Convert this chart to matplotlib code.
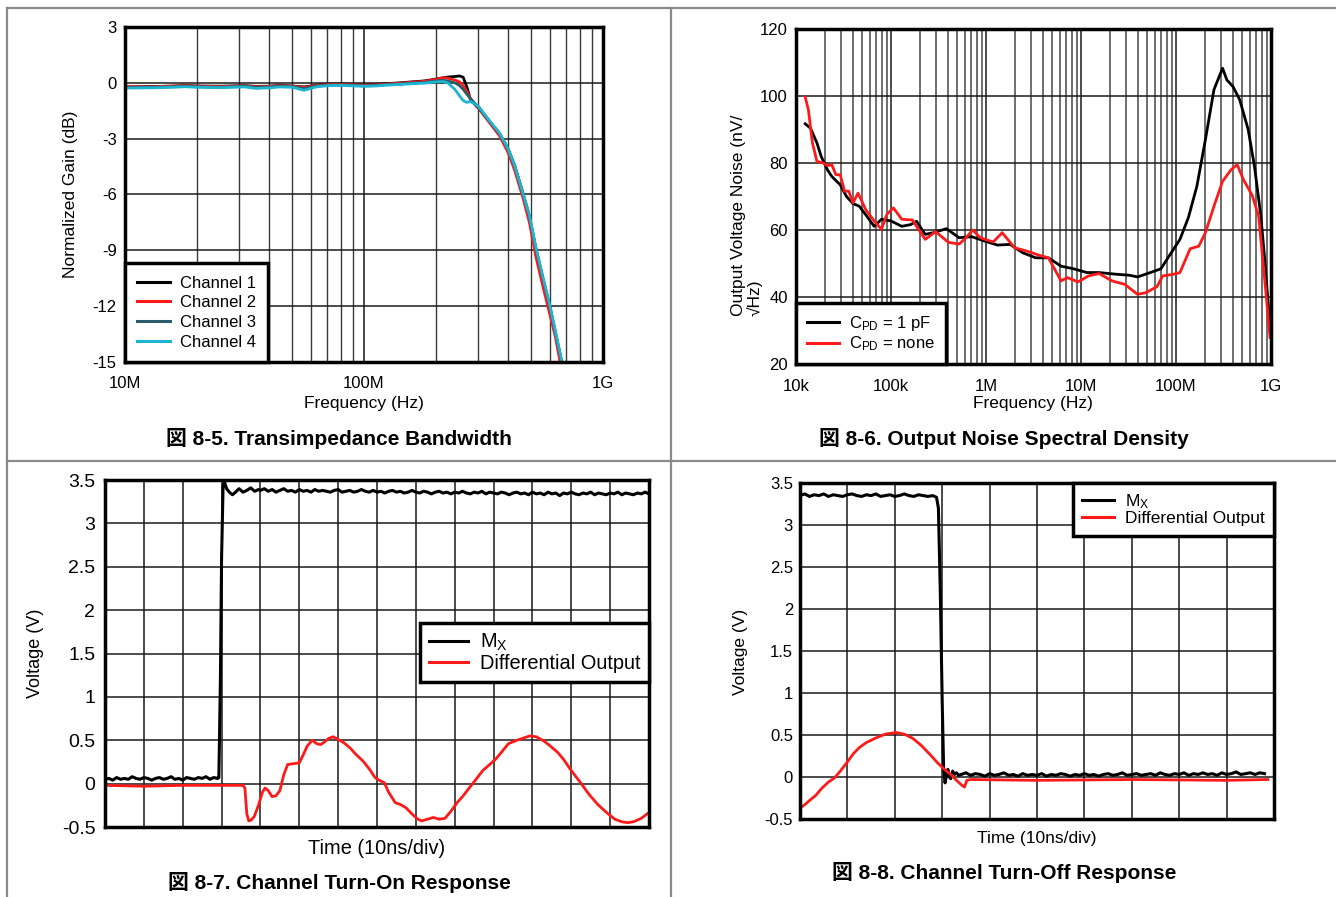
import numpy as np
import matplotlib
matplotlib.use("Agg")
import matplotlib.pyplot as plt
from matplotlib.lines import Line2D
from matplotlib.ticker import NullFormatter, LogLocator

plt.rcParams['font.family'] = ['Liberation Sans', 'Noto Sans CJK JP']
plt.rcParams['axes.unicode_minus'] = False
plt.rcParams['mathtext.fontset'] = 'custom'
plt.rcParams['mathtext.rm'] = 'Liberation Sans'
plt.rcParams['mathtext.it'] = 'Liberation Sans'

# ---------------- Panel 1: Transimpedance Bandwidth ----------------
bw_freq_mhz = [10, 12.6, 15.8, 17.8, 20, 25.1, 31.6, 35.5, 39.8, 44.7, 50.1, 56.2, 63.1, 70.8,
               79.4, 89.1, 100, 112, 126, 141, 158, 178, 200, 214, 224, 240, 251, 260, 269, 279,
               288, 301, 331, 369, 401, 427, 463, 492, 525, 562, 598, 631, 671, 692]
bw_ch1 = [-0.22, -0.20, -0.18, -0.14, -0.17, -0.18, -0.15, -0.19, -0.18, -0.14, -0.17, -0.22, -0.13, -0.07,
          -0.06, -0.08, -0.12, -0.09, -0.04, 0.00, 0.05, 0.10, 0.20, 0.27, 0.31, 0.34, 0.37, 0.30, -0.20, -0.90,
          -1.10, -1.35, -2.00, -2.75, -3.55, -4.45, -5.95, -7.20, -9.00, -10.6, -12.0, -13.4, -15.0, -16.0]
bw_ch2 = [-0.20, -0.22, -0.17, -0.15, -0.18, -0.20, -0.17, -0.21, -0.19, -0.16, -0.18, -0.24, -0.15, -0.09,
          -0.08, -0.10, -0.13, -0.11, -0.06, -0.02, 0.03, 0.08, 0.18, 0.28, 0.25, 0.15, 0.05, -0.15, -0.45, -0.85,
          -1.05, -1.35, -2.05, -2.85, -3.75, -4.70, -6.20, -7.50, -9.40, -11.0, -12.4, -13.6, -15.4, -16.0]
bw_ch3 = [-0.25, -0.24, -0.21, -0.18, -0.21, -0.23, -0.19, -0.24, -0.22, -0.19, -0.21, -0.30, -0.18, -0.12,
          -0.11, -0.13, -0.16, -0.14, -0.09, -0.06, -0.02, 0.02, 0.10, 0.14, 0.10, 0.00, -0.15, -0.35, -0.60, -0.85,
          -1.05, -1.30, -1.98, -2.72, -3.57, -4.48, -5.98, -7.15, -8.95, -10.55, -11.95, -13.35, -14.95, -16.0]
bw_ch4 = [-0.28, -0.27, -0.24, -0.21, -0.24, -0.26, -0.22, -0.30, -0.27, -0.22, -0.24, -0.40, -0.22, -0.15,
          -0.14, -0.16, -0.19, -0.17, -0.12, -0.09, -0.05, -0.02, 0.05, 0.07, 0.00, -0.35, -0.70, -0.95, -1.05, -1.00,
          -1.10, -1.25, -1.95, -2.70, -3.55, -4.45, -5.95, -7.10, -8.90, -10.5, -11.9, -13.3, -14.9, -16.0]

# ---------------- Panel 2: Output Noise Spectral Density ----------------
nz_freq_1pf = [12.5e3, 14.2e3, 16.6e3, 18.4e3, 21.4e3, 23.8e3, 29.2e3, 34.0e3, 39.8e3, 46.3e3,
               54.1e3, 66.5e3, 79.4e3, 100e3, 130e3, 160e3, 186e3, 229e3, 281e3, 383e3,
               521e3, 708e3, 968e3, 1.32e6, 1.79e6, 2.44e6, 3.33e6, 4.54e6, 6.17e6, 8.41e6,
               11.5e6, 15.5e6, 23.4e6, 32.1e6, 39.4e6, 53.7e6, 69.2e6, 89.1e6, 110e6, 135e6,
               166e6, 204e6, 251e6, 309e6, 343e6, 398e6, 468e6, 575e6, 670e6, 782e6,
               871e6, 991e6]
nz_1pf = [91.7, 90.4, 86.0, 82.0, 78.0, 76.0, 73.5, 70.0, 67.9, 67.1,
          64.6, 61.1, 63.2, 62.7, 61.1, 61.6, 62.6, 58.7, 59.2, 60.4,
          57.7, 58.0, 56.7, 55.5, 55.7, 53.2, 51.7, 51.7, 49.2, 48.4,
          47.3, 47.3, 46.8, 46.5, 46.0, 47.3, 48.4, 53.2, 57.2, 63.7,
          73.1, 87.0, 101.9, 108.3, 104.8, 102.8, 98.9, 90.0, 79.0, 64.2,
          49.2, 28.4]
nz_freq_none = [12.5e3, 13.5e3, 14.9e3, 16.6e3, 19.3e3, 21.4e3, 23.8e3, 26.3e3, 29.2e3, 32.4e3,
                35.9e3, 39.8e3, 45.0e3, 54.1e3, 66.5e3, 79.3e3, 90.6e3, 106e3, 130e3, 168e3,
                229e3, 295e3, 403e3, 521e3, 608e3, 724e3, 871e3, 1.19e6, 1.48e6, 2.0e6,
                2.69e6, 3.69e6, 4.54e6, 6.17e6, 7.19e6, 9.31e6, 12.0e6, 15.5e6, 21.2e6, 28.8e6,
                39.4e6, 48.4e6, 63.1e6, 72.4e6, 94.4e6, 110e6, 141e6, 174e6, 204e6, 251e6,
                309e6, 380e6, 441e6, 513e6, 631e6, 741e6, 871e6, 977e6]
nz_none = [99.7, 95.9, 86.0, 80.5, 80.0, 79.2, 79.5, 76.5, 76.5, 71.6,
           71.6, 68.1, 71.0, 66.1, 62.7, 60.2, 64.7, 66.6, 63.2, 63.0,
           57.2, 59.5, 56.3, 55.8, 57.5, 60.0, 57.7, 56.4, 59.2, 54.7,
           53.7, 52.4, 51.7, 44.8, 45.8, 44.5, 46.3, 47.0, 44.8, 43.8,
           40.8, 41.3, 43.1, 46.3, 46.8, 47.3, 54.4, 55.2, 59.2, 67.1,
           74.5, 78.0, 79.5, 75.0, 70.5, 64.2, 43.3, 27.9]

# ---------------- Panel 3: Channel Turn-On Response (time in divisions) ----------------
on_mx_t = ([round(0.1 * i, 2) for i in range(30)] +
           [2.93, 2.97, 3.00, 3.04, 3.08, 3.13, 3.20, 3.28, 3.36, 3.45, 3.55, 3.65, 3.75, 3.85, 3.95] +
           [round(4.0 + 0.1 * i, 2) for i in range(101)])
on_mx_v = [0.05, 0.06, 0.04, 0.07, 0.05, 0.06, 0.05, 0.08, 0.06, 0.05,
           0.07, 0.06, 0.04, 0.06, 0.07, 0.05, 0.06, 0.08, 0.05, 0.06,
           0.04, 0.07, 0.06, 0.05, 0.07, 0.06, 0.08, 0.05, 0.07, 0.06,
           0.07, 1.20, 2.60, 3.45, 3.47, 3.40, 3.36, 3.33, 3.36, 3.40, 3.36, 3.38, 3.41, 3.37, 3.39,
           3.38, 3.40, 3.37, 3.39, 3.36, 3.38, 3.40, 3.37, 3.38, 3.36, 3.39,
           3.37, 3.38, 3.36, 3.39, 3.37, 3.38, 3.37, 3.36, 3.38, 3.39,
           3.36, 3.37, 3.38, 3.36, 3.37, 3.39, 3.37, 3.36, 3.38, 3.36,
           3.37, 3.35, 3.37, 3.38, 3.36, 3.37, 3.35, 3.36, 3.38, 3.36,
           3.35, 3.37, 3.36, 3.34, 3.36, 3.37, 3.35, 3.36, 3.34, 3.36,
           3.35, 3.37, 3.35, 3.34, 3.36, 3.35, 3.37, 3.34, 3.36, 3.35,
           3.34, 3.36, 3.35, 3.33, 3.35, 3.36, 3.34, 3.35, 3.33, 3.36,
           3.34, 3.35, 3.33, 3.36, 3.34, 3.35, 3.32, 3.35, 3.34, 3.36,
           3.34, 3.33, 3.35, 3.34, 3.36, 3.33, 3.35, 3.34, 3.33, 3.35,
           3.34, 3.36, 3.33, 3.35, 3.34, 3.33, 3.35, 3.34, 3.36, 3.34]
on_out_t = [0.0, 1.0, 2.0, 3.0, 3.55, 3.60, 3.65, 3.70, 3.76, 3.84, 3.95, 4.05, 4.12, 4.20, 4.30,
            4.40, 4.50, 4.60, 4.70, 4.85, 5.00, 5.10, 5.20, 5.33, 5.45, 5.55, 5.65, 5.75, 5.87, 6.00,
            6.15, 6.31, 6.45, 6.64, 6.80, 6.95, 7.05, 7.19, 7.30, 7.47, 7.60, 7.75, 7.90, 8.05, 8.15,
            8.30, 8.45, 8.60, 8.75, 8.90, 9.06, 9.20, 9.39, 9.55, 9.72, 9.90, 10.05, 10.20, 10.38, 10.60,
            10.80, 10.93, 11.10, 11.30, 11.47, 11.65, 11.80, 12.00, 12.24, 12.45, 12.68, 12.90, 13.12, 13.30,
            13.45, 13.60, 13.80, 13.98]
on_out_v = [-0.02, -0.03, -0.02, -0.02, -0.02, -0.05, -0.35, -0.43, -0.42, -0.38, -0.25, -0.10, -0.05, -0.08, -0.15,
            -0.14, -0.08, 0.10, 0.22, 0.23, 0.24, 0.33, 0.43, 0.50, 0.46, 0.45, 0.48, 0.52, 0.54, 0.51,
            0.47, 0.41, 0.34, 0.26, 0.17, 0.07, 0.04, 0.01, -0.10, -0.22, -0.24, -0.28, -0.35, -0.41, -0.43,
            -0.41, -0.39, -0.41, -0.40, -0.32, -0.22, -0.15, -0.04, 0.05, 0.15, 0.22, 0.28, 0.36, 0.46, 0.50,
            0.53, 0.55, 0.54, 0.49, 0.43, 0.36, 0.28, 0.15, 0.01, -0.12, -0.24, -0.33, -0.41, -0.44,
            -0.45, -0.44, -0.40, -0.34]

# ---------------- Panel 4: Channel Turn-Off Response ----------------
off_mx_t = ([round(0.1 * i, 2) for i in range(29)] +
            [2.88, 2.92, 2.96, 3.00, 3.03, 3.06, 3.09, 3.12, 3.15, 3.18, 3.22, 3.26, 3.30, 3.35] +
            [round(3.4 + 0.1 * i, 2) for i in range(65)])
off_mx_v = [3.35, 3.37, 3.34, 3.36, 3.35, 3.37, 3.34, 3.36, 3.35, 3.34,
            3.36, 3.37, 3.35, 3.34, 3.36, 3.35, 3.37, 3.34, 3.35, 3.36,
            3.34, 3.35, 3.37, 3.35, 3.34, 3.36, 3.35, 3.34, 3.35,
            3.33, 3.20, 2.20, 0.90, 0.10, -0.07, 0.02, 0.09, 0.00, -0.02, 0.07, 0.03, 0.05, 0.02,
            0.03, 0.05, 0.02, 0.04, 0.03, 0.01, 0.04, 0.02, 0.03, 0.05,
            0.02, 0.03, 0.01, 0.04, 0.02, 0.03, 0.02, 0.04, 0.01, 0.03,
            0.02, 0.04, 0.03, 0.01, 0.03, 0.02, 0.04, 0.02, 0.03, 0.01,
            0.03, 0.04, 0.02, 0.03, 0.05, 0.02, 0.03, 0.04, 0.02, 0.03,
            0.04, 0.02, 0.05, 0.03, 0.02, 0.04, 0.03, 0.05, 0.02, 0.04,
            0.03, 0.05, 0.03, 0.04, 0.02, 0.05, 0.03, 0.04, 0.06, 0.03,
            0.04, 0.05, 0.03, 0.05, 0.04]
off_out_t = [0.0, 0.1, 0.2, 0.33, 0.45, 0.6, 0.73, 0.85, 1.0, 1.13, 1.25, 1.4, 1.58, 1.8, 2.03, 2.2,
             2.38, 2.55, 2.74, 2.9, 3.05, 3.2, 3.32, 3.42, 3.47, 3.52, 3.6, 5.0, 7.0, 9.0, 9.87]
off_out_v = [-0.37, -0.33, -0.28, -0.22, -0.14, -0.06, -0.01, 0.07, 0.18, 0.28, 0.35, 0.41, 0.46, 0.51, 0.53, 0.51,
             0.46, 0.38, 0.27, 0.17, 0.09, 0.02, -0.05, -0.10, -0.12, -0.04, -0.03, -0.04, -0.03, -0.04, -0.03]

# ---------------- Figure ----------------
W, H = 1336, 897
fig = plt.figure(figsize=(W / 100, H / 100), dpi=100)


def fx(x):
    return x / W


def fy(y):
    return 1 - y / H


def add_ax(x0, y0, x1, y1):
    return fig.add_axes([fx(x0), fy(y1), fx(x1) - fx(x0), (y1 - y0) / H])


# panel borders
bc = '#8a8a8a'
for (xa, ya, xb, yb) in [(7, 8, W, 8), (7, 8, 7, H), (671, 8, 671, H), (7, 461, W, 461)]:
    fig.add_artist(Line2D([fx(xa), fx(xb)], [fy(ya), fy(yb)], transform=fig.transFigure,
                          color=bc, lw=1.6))

RED = '#ff1a1a'


def style(ax, labelsize=12, xpad=6, ypad=6):
    for s in ax.spines.values():
        s.set_linewidth(2.5)
        s.set_color('black')
    ax.tick_params(which='both', length=0, labelsize=labelsize)
    ax.tick_params(axis='x', which='both', pad=xpad)
    ax.tick_params(axis='y', which='both', pad=ypad)
    ax.set_axisbelow(True)


def legend(ax, fs, ls, bp, hl=1.95, **kw):
    leg = ax.legend(fancybox=False, edgecolor='black', framealpha=1, fontsize=fs,
                    handlelength=hl, handletextpad=0.6, labelspacing=ls, borderpad=bp,
                    borderaxespad=0, **kw)
    leg.get_frame().set_linewidth(2.5)
    for ln in leg.get_lines():
        ln.set_linewidth(2.2)
    return leg


# ---- Panel 1 ----
ax1 = add_ax(125, 27, 603, 362)
f1 = np.array(bw_freq_mhz) * 1e6
ax1.plot(f1, bw_ch1, color='black', lw=2, label='Channel 1')
ax1.plot(f1, bw_ch2, color=RED, lw=2, label='Channel 2')
ax1.plot(f1, bw_ch3, color='#2c5d6b', lw=2, label='Channel 3')
ax1.plot(f1, bw_ch4, color='#1cb6d2', lw=2, label='Channel 4')
ax1.set_xscale('log')
ax1.set_xlim(1e7, 1e9)
ax1.set_ylim(-15, 3)
ax1.set_yticks([-15, -12, -9, -6, -3, 0, 3])
ax1.set_xticks([1e7, 1e8, 1e9])
ax1.set_xticklabels(['10M', '100M', '1G'])
ax1.xaxis.set_minor_locator(LogLocator(base=10, subs=np.arange(2, 10), numticks=20))
ax1.xaxis.set_minor_formatter(NullFormatter())
ax1.grid(which='major', color='#1a1a1a', lw=1.1)
ax1.grid(which='minor', axis='x', color='#3a3a3a', lw=1.0)
style(ax1, 12, xpad=10, ypad=6)
legend(ax1, 12, 0.29, 0.72, hl=1.95, loc='lower left')
fig.text(fx(364), fy(403), 'Frequency (Hz)', ha='center', va='center', fontsize=12.5)
fig.text(fx(70), fy(194), 'Normalized Gain (dB)', ha='center', va='center', rotation=90, fontsize=12.5)
fig.text(fx(339), fy(438), '図 8-5. Transimpedance Bandwidth', ha='center', va='center',
         fontsize=15, fontweight='bold')

# ---- Panel 2 ----
ax2 = add_ax(796, 29, 1271, 364)
ax2.plot(nz_freq_1pf, nz_1pf, color='black', lw=2, label=r'C$_{\mathrm{PD}}$ = 1 pF')
ax2.plot(nz_freq_none, nz_none, color=RED, lw=2, label=r'C$_{\mathrm{PD}}$ = none')
ax2.set_xscale('log')
ax2.set_xlim(1e4, 1e9)
ax2.set_ylim(20, 120)
ax2.set_yticks([20, 40, 60, 80, 100, 120])
ax2.set_xticks([1e4, 1e5, 1e6, 1e7, 1e8, 1e9])
ax2.set_xticklabels(['10k', '100k', '1M', '10M', '100M', '1G'])
ax2.xaxis.set_minor_locator(LogLocator(base=10, subs=np.arange(2, 10), numticks=30))
ax2.xaxis.set_minor_formatter(NullFormatter())
ax2.grid(which='major', color='#1a1a1a', lw=1.1)
ax2.grid(which='minor', axis='x', color='#555555', lw=1.2)
style(ax2, 12, xpad=11, ypad=6)
legend(ax2, 12, 0.07, 0.65, loc='lower left')
fig.text(fx(1033), fy(403), 'Frequency (Hz)', ha='center', va='center', fontsize=12.5)
fig.text(fx(747), fy(316), 'Output Voltage Noise (nV/\n√Hz)', ha='center', va='bottom', rotation=90,
         multialignment='left', fontsize=12.5, linespacing=1.05)
fig.text(fx(1004), fy(438), '図 8-6. Output Noise Spectral Density', ha='center', va='center',
         fontsize=15, fontweight='bold')

yt = [-0.5, 0, 0.5, 1, 1.5, 2, 2.5, 3, 3.5]
ytl = ['-0.5', '0', '0.5', '1', '1.5', '2', '2.5', '3', '3.5']

# ---- Panel 3 ----
ax3 = add_ax(105, 480, 649, 827)
ax3.plot(on_mx_t, on_mx_v, color='black', lw=2.2, label=r'M$_{\mathrm{X}}$')
ax3.plot(on_out_t, on_out_v, color=RED, lw=2, label='Differential Output')
ax3.set_xlim(0, 14)
ax3.set_ylim(-0.5, 3.5)
ax3.set_xticks(range(0, 15))
ax3.set_xticklabels([])
ax3.set_yticks(yt)
ax3.set_yticklabels(ytl)
ax3.grid(which='major', color='#1a1a1a', lw=1.1)
style(ax3, 14, ypad=7)
legend(ax3, 14.4, 0.05, 0.45, loc='upper right', bbox_to_anchor=(1.0, 0.588))
fig.text(fx(377), fy(848), 'Time (10ns/div)', ha='center', va='center', fontsize=14.4)
fig.text(fx(36), fy(653), 'Voltage (V)', ha='center', va='center', rotation=90, fontsize=13)
fig.text(fx(339), fy(882), '図 8-7. Channel Turn-On Response', ha='center', va='center',
         fontsize=15, fontweight='bold')

# ---- Panel 4 ----
ax4 = add_ax(800, 483, 1274, 819)
ax4.plot(off_mx_t, off_mx_v, color='black', lw=2.2, label=r'M$_{\mathrm{X}}$')
ax4.plot(off_out_t, off_out_v, color=RED, lw=2, label='Differential Output')
ax4.set_xlim(0, 10)
ax4.set_ylim(-0.5, 3.5)
ax4.set_xticks(range(0, 11))
ax4.set_xticklabels([])
ax4.set_yticks(yt)
ax4.set_yticklabels(ytl)
ax4.grid(which='major', color='#1a1a1a', lw=1.1)
style(ax4, 12, ypad=5)
legend(ax4, 12.5, 0.0, 0.55, hl=1.85, loc='upper right')
fig.text(fx(1037), fy(838), 'Time (10ns/div)', ha='center', va='center', fontsize=12.5)
fig.text(fx(740), fy(652), 'Voltage (V)', ha='center', va='center', rotation=90, fontsize=12.5)
fig.text(fx(1004), fy(872), '図 8-8. Channel Turn-Off Response', ha='center', va='center',
         fontsize=15, fontweight='bold')

fig.savefig('out.png', dpi=100)
